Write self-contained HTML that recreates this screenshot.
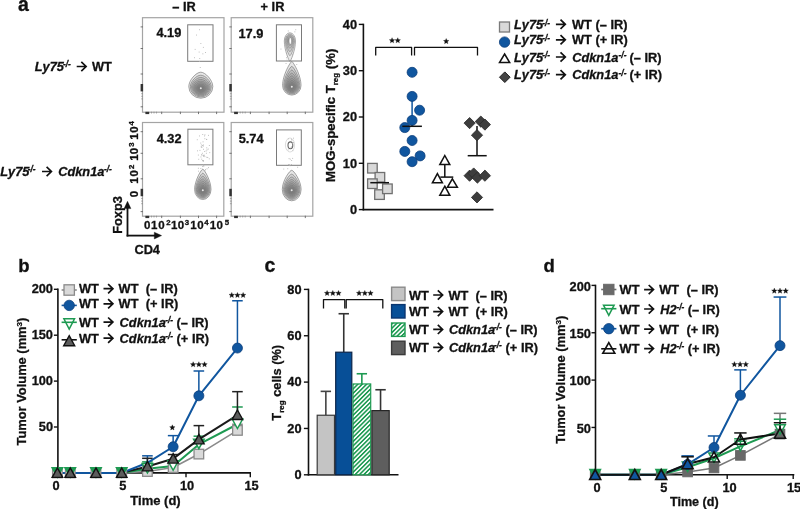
<!DOCTYPE html><html><head><meta charset="utf-8"><style>html,body{margin:0;padding:0;background:#fff;}svg{display:block;filter:blur(0.45px);}text{font-family:"Liberation Sans", sans-serif;font-weight:bold;stroke:#111;stroke-width:0.3px;}</style></head><body>
<svg width="800" height="509" viewBox="0 0 800 509">
<rect width="800" height="509" fill="#fff"/>
<text x="18.00" y="10.70" font-size="19.5" fill="#111" >a</text>
<text x="18.30" y="271.80" font-size="18.5" fill="#111" >b</text>
<text x="264.40" y="271.80" font-size="19.5" fill="#111" >c</text>
<text x="543.50" y="271.60" font-size="18.5" fill="#111" >d</text>
<text x="184.00" y="10.90" font-size="12.8" text-anchor="middle" fill="#111" >– IR</text>
<text x="272.50" y="10.90" font-size="12.8" text-anchor="middle" fill="#111" >+ IR</text>
<text x="34.80" y="71.20" font-size="12.8" font-style="italic" fill="#111" >Ly75</text>
<text x="63.00" y="66.50" font-size="8.3" font-style="italic" fill="#111" >-/-</text>
<path d="M76.70,66.50H85.90M81.30,61.90L86.10,66.50L81.30,71.10" fill="none" stroke="#111" stroke-width="1.7" stroke-linejoin="miter" stroke-miterlimit="10"/>
<text x="92.00" y="71.20" font-size="12.8" fill="#111" >WT</text>
<text x="0.30" y="176.30" font-size="12.8" font-style="italic" fill="#111" >Ly75</text>
<text x="27.80" y="171.60" font-size="8.3" font-style="italic" fill="#111" >-/-</text>
<path d="M42.00,171.50H51.20M46.60,166.90L51.40,171.50L46.60,176.10" fill="none" stroke="#111" stroke-width="1.7" stroke-linejoin="miter" stroke-miterlimit="10"/>
<text x="58.20" y="176.30" font-size="12.8" font-style="italic" fill="#111" >Cdkn1a</text>
<text x="104.00" y="171.60" font-size="8.3" font-style="italic" fill="#111" >-/-</text>
<rect x="142.5" y="17.7" width="81.5" height="94.5" fill="#fff" stroke="#a4a4a4" stroke-width="1.2"/>
<rect x="187.7" y="24.8" width="25.3" height="36.5" fill="none" stroke="#7a7a7a" stroke-width="1"/>
<text x="156.40" y="37.20" font-size="12.8" fill="#111" >4.19</text>
<line x1="140.60" y1="26.90" x2="143.00" y2="26.90" stroke="#666" stroke-width="0.9" />
<line x1="140.60" y1="48.50" x2="143.00" y2="48.50" stroke="#666" stroke-width="0.9" />
<line x1="140.60" y1="74.00" x2="143.00" y2="74.00" stroke="#666" stroke-width="0.9" />
<line x1="140.60" y1="106.80" x2="143.00" y2="106.80" stroke="#666" stroke-width="0.9" />
<line x1="141.20" y1="93.70" x2="143.00" y2="93.70" stroke="#888" stroke-width="0.7" />
<line x1="141.20" y1="96.30" x2="143.00" y2="96.30" stroke="#888" stroke-width="0.7" />
<line x1="141.20" y1="98.90" x2="143.00" y2="98.90" stroke="#888" stroke-width="0.7" />
<rect x="140.6" y="84.0" width="2.5" height="7.4" fill="#333"/>
<line x1="161.70" y1="111.70" x2="161.70" y2="114.10" stroke="#666" stroke-width="0.9" />
<line x1="180.40" y1="111.70" x2="180.40" y2="114.10" stroke="#666" stroke-width="0.9" />
<line x1="198.50" y1="111.70" x2="198.50" y2="114.10" stroke="#666" stroke-width="0.9" />
<line x1="216.60" y1="111.70" x2="216.60" y2="114.10" stroke="#666" stroke-width="0.9" />
<line x1="151.50" y1="111.70" x2="151.50" y2="113.50" stroke="#888" stroke-width="0.7" />
<line x1="154.00" y1="111.70" x2="154.00" y2="113.50" stroke="#888" stroke-width="0.7" />
<line x1="156.50" y1="111.70" x2="156.50" y2="113.50" stroke="#888" stroke-width="0.7" />
<rect x="145.4" y="111.8" width="3.8" height="2.3" fill="#333"/>
<rect x="231.2" y="17.7" width="81.6" height="94.5" fill="#fff" stroke="#a4a4a4" stroke-width="1.2"/>
<rect x="276.4" y="24.8" width="25.1" height="36.2" fill="none" stroke="#7a7a7a" stroke-width="1"/>
<text x="238.50" y="37.60" font-size="12.8" fill="#111" >17.9</text>
<line x1="229.30" y1="26.90" x2="231.70" y2="26.90" stroke="#666" stroke-width="0.9" />
<line x1="229.30" y1="48.50" x2="231.70" y2="48.50" stroke="#666" stroke-width="0.9" />
<line x1="229.30" y1="74.00" x2="231.70" y2="74.00" stroke="#666" stroke-width="0.9" />
<line x1="229.30" y1="106.80" x2="231.70" y2="106.80" stroke="#666" stroke-width="0.9" />
<line x1="229.90" y1="93.70" x2="231.70" y2="93.70" stroke="#888" stroke-width="0.7" />
<line x1="229.90" y1="96.30" x2="231.70" y2="96.30" stroke="#888" stroke-width="0.7" />
<line x1="229.90" y1="98.90" x2="231.70" y2="98.90" stroke="#888" stroke-width="0.7" />
<rect x="229.29999999999998" y="84.0" width="2.5" height="7.4" fill="#333"/>
<line x1="250.40" y1="111.70" x2="250.40" y2="114.10" stroke="#666" stroke-width="0.9" />
<line x1="269.10" y1="111.70" x2="269.10" y2="114.10" stroke="#666" stroke-width="0.9" />
<line x1="287.20" y1="111.70" x2="287.20" y2="114.10" stroke="#666" stroke-width="0.9" />
<line x1="305.30" y1="111.70" x2="305.30" y2="114.10" stroke="#666" stroke-width="0.9" />
<line x1="240.20" y1="111.70" x2="240.20" y2="113.50" stroke="#888" stroke-width="0.7" />
<line x1="242.70" y1="111.70" x2="242.70" y2="113.50" stroke="#888" stroke-width="0.7" />
<line x1="245.20" y1="111.70" x2="245.20" y2="113.50" stroke="#888" stroke-width="0.7" />
<rect x="234.1" y="111.8" width="3.8" height="2.3" fill="#333"/>
<rect x="142.5" y="122.5" width="81.3" height="93.7" fill="#fff" stroke="#a4a4a4" stroke-width="1.2"/>
<rect x="187.9" y="129.2" width="25.0" height="35.6" fill="none" stroke="#7a7a7a" stroke-width="1"/>
<text x="156.70" y="143.10" font-size="12.8" fill="#111" >4.32</text>
<line x1="140.60" y1="131.70" x2="143.00" y2="131.70" stroke="#666" stroke-width="0.9" />
<line x1="140.60" y1="153.30" x2="143.00" y2="153.30" stroke="#666" stroke-width="0.9" />
<line x1="140.60" y1="178.80" x2="143.00" y2="178.80" stroke="#666" stroke-width="0.9" />
<line x1="140.60" y1="211.60" x2="143.00" y2="211.60" stroke="#666" stroke-width="0.9" />
<line x1="141.20" y1="198.50" x2="143.00" y2="198.50" stroke="#888" stroke-width="0.7" />
<line x1="141.20" y1="201.10" x2="143.00" y2="201.10" stroke="#888" stroke-width="0.7" />
<line x1="141.20" y1="203.70" x2="143.00" y2="203.70" stroke="#888" stroke-width="0.7" />
<rect x="140.6" y="188.8" width="2.5" height="7.4" fill="#333"/>
<line x1="161.70" y1="215.70" x2="161.70" y2="218.10" stroke="#666" stroke-width="0.9" />
<line x1="180.40" y1="215.70" x2="180.40" y2="218.10" stroke="#666" stroke-width="0.9" />
<line x1="198.50" y1="215.70" x2="198.50" y2="218.10" stroke="#666" stroke-width="0.9" />
<line x1="216.60" y1="215.70" x2="216.60" y2="218.10" stroke="#666" stroke-width="0.9" />
<line x1="151.50" y1="215.70" x2="151.50" y2="217.50" stroke="#888" stroke-width="0.7" />
<line x1="154.00" y1="215.70" x2="154.00" y2="217.50" stroke="#888" stroke-width="0.7" />
<line x1="156.50" y1="215.70" x2="156.50" y2="217.50" stroke="#888" stroke-width="0.7" />
<rect x="145.4" y="215.79999999999998" width="3.8" height="2.3" fill="#333"/>
<rect x="231.2" y="122.5" width="81.6" height="93.7" fill="#fff" stroke="#a4a4a4" stroke-width="1.2"/>
<rect x="276.5" y="129.9" width="24.8" height="35.4" fill="none" stroke="#7a7a7a" stroke-width="1"/>
<text x="238.70" y="142.80" font-size="12.8" fill="#111" >5.74</text>
<line x1="229.30" y1="131.70" x2="231.70" y2="131.70" stroke="#666" stroke-width="0.9" />
<line x1="229.30" y1="153.30" x2="231.70" y2="153.30" stroke="#666" stroke-width="0.9" />
<line x1="229.30" y1="178.80" x2="231.70" y2="178.80" stroke="#666" stroke-width="0.9" />
<line x1="229.30" y1="211.60" x2="231.70" y2="211.60" stroke="#666" stroke-width="0.9" />
<line x1="229.90" y1="198.50" x2="231.70" y2="198.50" stroke="#888" stroke-width="0.7" />
<line x1="229.90" y1="201.10" x2="231.70" y2="201.10" stroke="#888" stroke-width="0.7" />
<line x1="229.90" y1="203.70" x2="231.70" y2="203.70" stroke="#888" stroke-width="0.7" />
<rect x="229.29999999999998" y="188.8" width="2.5" height="7.4" fill="#333"/>
<line x1="250.40" y1="215.70" x2="250.40" y2="218.10" stroke="#666" stroke-width="0.9" />
<line x1="269.10" y1="215.70" x2="269.10" y2="218.10" stroke="#666" stroke-width="0.9" />
<line x1="287.20" y1="215.70" x2="287.20" y2="218.10" stroke="#666" stroke-width="0.9" />
<line x1="305.30" y1="215.70" x2="305.30" y2="218.10" stroke="#666" stroke-width="0.9" />
<line x1="240.20" y1="215.70" x2="240.20" y2="217.50" stroke="#888" stroke-width="0.7" />
<line x1="242.70" y1="215.70" x2="242.70" y2="217.50" stroke="#888" stroke-width="0.7" />
<line x1="245.20" y1="215.70" x2="245.20" y2="217.50" stroke="#888" stroke-width="0.7" />
<rect x="234.1" y="215.79999999999998" width="3.8" height="2.3" fill="#333"/>
<g>
<path d="M200.80,72.20C205.36,72.20 212.80,80.12 212.80,86.60A12.00,11.60 0 0 1 188.80,86.60C188.80,80.12 196.24,72.20 200.80,72.20Z" fill="#5a5a5a" fill-opacity="0.15" stroke="#7d7d7d" stroke-width="0.7"/>
<path d="M200.80,75.23C205.45,75.23 211.28,81.61 211.28,86.83A10.48,10.13 0 0 1 190.32,86.83C190.32,81.61 196.15,75.23 200.80,75.23Z" fill="#5a5a5a" fill-opacity="0.15" stroke="#7d7d7d" stroke-width="0.7"/>
<path d="M200.80,77.50C205.38,77.50 210.06,82.73 210.06,87.01A9.26,8.95 0 0 1 191.54,87.01C191.54,82.73 196.22,77.50 200.80,77.50Z" fill="#5a5a5a" fill-opacity="0.15" stroke="#7d7d7d" stroke-width="0.7"/>
<path d="M200.80,79.45C205.20,79.45 208.93,83.70 208.93,87.18A8.13,7.86 0 0 1 192.67,87.18C192.67,83.70 196.40,79.45 200.80,79.45Z" fill="#5a5a5a" fill-opacity="0.15" stroke="#7d7d7d" stroke-width="0.7"/>
<path d="M200.80,81.18C204.94,81.18 207.86,84.57 207.86,87.34A7.06,6.83 0 0 1 193.74,87.34C193.74,84.57 196.66,81.18 200.80,81.18Z" fill="#5a5a5a" fill-opacity="0.15" stroke="#7d7d7d" stroke-width="0.7"/>
<path d="M200.80,82.71C204.59,82.71 206.83,85.34 206.83,87.50A6.03,5.83 0 0 1 194.77,87.50C194.77,85.34 197.01,82.71 200.80,82.71Z" fill="#5a5a5a" fill-opacity="0.15" stroke="#7d7d7d" stroke-width="0.7"/>
<path d="M200.80,84.06C204.17,84.06 205.83,86.03 205.83,87.65A5.03,4.86 0 0 1 195.77,87.65C195.77,86.03 197.43,84.06 200.80,84.06Z" fill="#5a5a5a" fill-opacity="0.15" stroke="#7d7d7d" stroke-width="0.7"/>
<path d="M200.80,85.26C203.68,85.26 204.85,86.65 204.85,87.79A4.05,3.92 0 0 1 196.75,87.79C196.75,86.65 197.92,85.26 200.80,85.26Z" fill="#5a5a5a" fill-opacity="0.15" stroke="#7d7d7d" stroke-width="0.7"/>
<path d="M200.80,86.29C203.13,86.29 203.90,87.19 203.90,87.94A3.10,2.99 0 0 1 197.70,87.94C197.70,87.19 198.47,86.29 200.80,86.29Z" fill="#5a5a5a" fill-opacity="0.15" stroke="#7d7d7d" stroke-width="0.7"/>
<path d="M200.80,87.15C202.51,87.15 202.96,87.66 202.96,88.08A2.16,2.09 0 0 1 198.64,88.08C198.64,87.66 199.09,87.15 200.80,87.15Z" fill="#5a5a5a" fill-opacity="0.15" stroke="#7d7d7d" stroke-width="0.7"/>
<circle cx="200.80" cy="88.13" r="1.0" fill="#e8e8e8"/>
</g>
<g>
<path d="M291.80,61.50C292.90,61.50 301.00,74.70 301.00,85.50A9.20,9.60 0 0 1 282.60,85.50C282.60,74.70 290.70,61.50 291.80,61.50Z" fill="#5a5a5a" fill-opacity="0.15" stroke="#7d7d7d" stroke-width="0.7"/>
<path d="M291.80,66.37C293.27,66.37 299.83,76.99 299.83,85.69A8.03,8.38 0 0 1 283.77,85.69C283.77,76.99 290.33,66.37 291.80,66.37Z" fill="#5a5a5a" fill-opacity="0.15" stroke="#7d7d7d" stroke-width="0.7"/>
<path d="M291.80,69.99C293.46,69.99 298.90,78.71 298.90,85.84A7.10,7.41 0 0 1 284.70,85.84C284.70,78.71 290.14,69.99 291.80,69.99Z" fill="#5a5a5a" fill-opacity="0.15" stroke="#7d7d7d" stroke-width="0.7"/>
<path d="M291.80,73.10C293.55,73.10 298.03,80.19 298.03,85.98A6.23,6.51 0 0 1 285.57,85.98C285.57,80.19 290.05,73.10 291.80,73.10Z" fill="#5a5a5a" fill-opacity="0.15" stroke="#7d7d7d" stroke-width="0.7"/>
<path d="M291.80,75.84C293.56,75.84 297.21,81.49 297.21,86.12A5.41,5.65 0 0 1 286.39,86.12C286.39,81.49 290.04,75.84 291.80,75.84Z" fill="#5a5a5a" fill-opacity="0.15" stroke="#7d7d7d" stroke-width="0.7"/>
<path d="M291.80,78.27C293.50,78.27 296.42,82.66 296.42,86.25A4.62,4.82 0 0 1 287.18,86.25C287.18,82.66 290.10,78.27 291.80,78.27Z" fill="#5a5a5a" fill-opacity="0.15" stroke="#7d7d7d" stroke-width="0.7"/>
<path d="M291.80,80.40C293.38,80.40 295.66,83.69 295.66,86.37A3.86,4.02 0 0 1 287.94,86.37C287.94,83.69 290.22,80.40 291.80,80.40Z" fill="#5a5a5a" fill-opacity="0.15" stroke="#7d7d7d" stroke-width="0.7"/>
<path d="M291.80,82.27C293.20,82.27 294.91,84.59 294.91,86.49A3.11,3.24 0 0 1 288.69,86.49C288.69,84.59 290.40,82.27 291.80,82.27Z" fill="#5a5a5a" fill-opacity="0.15" stroke="#7d7d7d" stroke-width="0.7"/>
<path d="M291.80,83.86C292.97,83.86 294.17,85.38 294.17,86.61A2.37,2.48 0 0 1 289.43,86.61C289.43,85.38 290.63,83.86 291.80,83.86Z" fill="#5a5a5a" fill-opacity="0.15" stroke="#7d7d7d" stroke-width="0.7"/>
<path d="M291.80,85.19C292.68,85.19 293.46,86.04 293.46,86.73A1.66,1.73 0 0 1 290.14,86.73C290.14,86.04 290.92,85.19 291.80,85.19Z" fill="#5a5a5a" fill-opacity="0.15" stroke="#7d7d7d" stroke-width="0.7"/>
<circle cx="291.80" cy="86.78" r="1.0" fill="#e8e8e8"/>
</g>
<g>
<path d="M289.90,61.50C290.57,61.50 295.50,50.23 295.50,41.00A5.60,8.20 0 0 0 284.30,41.00C284.30,50.23 289.23,61.50 289.90,61.50Z" fill="#5a5a5a" fill-opacity="0.12" stroke="#8a8a8a" stroke-width="0.7"/>
<path d="M289.90,55.78C290.86,55.78 294.50,47.55 294.50,40.82A4.60,6.73 0 0 0 285.30,40.82C285.30,47.55 288.94,55.78 289.90,55.78Z" fill="#5a5a5a" fill-opacity="0.12" stroke="#8a8a8a" stroke-width="0.7"/>
<path d="M289.90,51.68C290.97,51.68 293.70,45.63 293.70,40.68A3.80,5.56 0 0 0 286.10,40.68C286.10,45.63 288.83,51.68 289.90,51.68Z" fill="#5a5a5a" fill-opacity="0.12" stroke="#8a8a8a" stroke-width="0.7"/>
<path d="M289.90,48.31C290.96,48.31 292.95,44.04 292.95,40.55A3.05,4.47 0 0 0 286.85,40.55C286.85,44.04 288.84,48.31 289.90,48.31Z" fill="#5a5a5a" fill-opacity="0.12" stroke="#8a8a8a" stroke-width="0.7"/>
<path d="M289.90,45.52C290.86,45.52 292.25,42.71 292.25,40.42A2.35,3.44 0 0 0 287.55,40.42C287.55,42.71 288.94,45.52 289.90,45.52Z" fill="#5a5a5a" fill-opacity="0.12" stroke="#8a8a8a" stroke-width="0.7"/>
<path d="M289.90,43.25C290.69,43.25 291.57,41.63 291.57,40.30A1.67,2.44 0 0 0 288.23,40.30C288.23,41.63 289.11,43.25 289.90,43.25Z" fill="#5a5a5a" fill-opacity="0.12" stroke="#8a8a8a" stroke-width="0.7"/>
<path d="M289.90,41.50C290.43,41.50 290.91,40.77 290.91,40.18A1.01,1.48 0 0 0 288.89,40.18C288.89,40.77 289.37,41.50 289.90,41.50Z" fill="#5a5a5a" fill-opacity="0.12" stroke="#8a8a8a" stroke-width="0.7"/>
</g>
<ellipse cx="290.3" cy="41.0" rx="1.3" ry="3.2" fill="#fff" stroke="#888" stroke-width="0.6"/>
<g>
<path d="M202.80,169.10C204.03,169.10 211.00,180.32 211.00,189.50A8.20,10.00 0 0 1 194.60,189.50C194.60,180.32 201.57,169.10 202.80,169.10Z" fill="#5a5a5a" fill-opacity="0.15" stroke="#7d7d7d" stroke-width="0.7"/>
<path d="M202.80,173.20C204.33,173.20 209.96,182.24 209.96,189.63A7.16,8.73 0 0 1 195.64,189.63C195.64,182.24 201.27,173.20 202.80,173.20Z" fill="#5a5a5a" fill-opacity="0.15" stroke="#7d7d7d" stroke-width="0.7"/>
<path d="M202.80,176.25C204.47,176.25 209.13,183.66 209.13,189.73A6.33,7.72 0 0 1 196.47,189.73C196.47,183.66 201.13,176.25 202.80,176.25Z" fill="#5a5a5a" fill-opacity="0.15" stroke="#7d7d7d" stroke-width="0.7"/>
<path d="M202.80,178.88C204.53,178.88 208.36,184.90 208.36,189.82A5.56,6.78 0 0 1 197.24,189.82C197.24,184.90 201.07,178.88 202.80,178.88Z" fill="#5a5a5a" fill-opacity="0.15" stroke="#7d7d7d" stroke-width="0.7"/>
<path d="M202.80,181.18C204.52,181.18 207.63,185.98 207.63,189.91A4.83,5.88 0 0 1 197.97,189.91C197.97,185.98 201.08,181.18 202.80,181.18Z" fill="#5a5a5a" fill-opacity="0.15" stroke="#7d7d7d" stroke-width="0.7"/>
<path d="M202.80,183.22C204.44,183.22 206.92,186.95 206.92,190.00A4.12,5.02 0 0 1 198.68,190.00C198.68,186.95 201.16,183.22 202.80,183.22Z" fill="#5a5a5a" fill-opacity="0.15" stroke="#7d7d7d" stroke-width="0.7"/>
<path d="M202.80,185.01C204.31,185.01 206.24,187.80 206.24,190.08A3.44,4.19 0 0 1 199.36,190.08C199.36,187.80 201.29,185.01 202.80,185.01Z" fill="#5a5a5a" fill-opacity="0.15" stroke="#7d7d7d" stroke-width="0.7"/>
<path d="M202.80,186.57C204.13,186.57 205.57,188.55 205.57,190.16A2.77,3.38 0 0 1 200.03,190.16C200.03,188.55 201.47,186.57 202.80,186.57Z" fill="#5a5a5a" fill-opacity="0.15" stroke="#7d7d7d" stroke-width="0.7"/>
<path d="M202.80,187.91C203.90,187.91 204.92,189.19 204.92,190.24A2.12,2.58 0 0 1 200.68,190.24C200.68,189.19 201.70,187.91 202.80,187.91Z" fill="#5a5a5a" fill-opacity="0.15" stroke="#7d7d7d" stroke-width="0.7"/>
<path d="M202.80,189.01C203.63,189.01 204.28,189.73 204.28,190.32A1.48,1.80 0 0 1 201.32,190.32C201.32,189.73 201.97,189.01 202.80,189.01Z" fill="#5a5a5a" fill-opacity="0.15" stroke="#7d7d7d" stroke-width="0.7"/>
<circle cx="202.80" cy="190.35" r="1.0" fill="#e8e8e8"/>
</g>
<g>
<path d="M291.70,170.30C293.77,170.30 301.10,180.86 301.10,189.50A9.40,11.30 0 0 1 282.30,189.50C282.30,180.86 289.63,170.30 291.70,170.30Z" fill="#5a5a5a" fill-opacity="0.15" stroke="#7d7d7d" stroke-width="0.7"/>
<path d="M291.70,174.17C294.03,174.17 299.91,182.67 299.91,189.63A8.21,9.87 0 0 1 283.49,189.63C283.49,182.67 289.37,174.17 291.70,174.17Z" fill="#5a5a5a" fill-opacity="0.15" stroke="#7d7d7d" stroke-width="0.7"/>
<path d="M291.70,177.05C294.12,177.05 298.95,184.02 298.95,189.73A7.25,8.72 0 0 1 284.45,189.73C284.45,184.02 289.28,177.05 291.70,177.05Z" fill="#5a5a5a" fill-opacity="0.15" stroke="#7d7d7d" stroke-width="0.7"/>
<path d="M291.70,179.52C294.13,179.52 298.07,185.19 298.07,189.82A6.37,7.66 0 0 1 285.33,189.82C285.33,185.19 289.27,179.52 291.70,179.52Z" fill="#5a5a5a" fill-opacity="0.15" stroke="#7d7d7d" stroke-width="0.7"/>
<path d="M291.70,181.69C294.06,181.69 297.23,186.21 297.23,189.91A5.53,6.65 0 0 1 286.17,189.91C286.17,186.21 289.34,181.69 291.70,181.69Z" fill="#5a5a5a" fill-opacity="0.15" stroke="#7d7d7d" stroke-width="0.7"/>
<path d="M291.70,183.61C293.91,183.61 296.42,187.12 296.42,190.00A4.72,5.68 0 0 1 286.98,190.00C286.98,187.12 289.49,183.61 291.70,183.61Z" fill="#5a5a5a" fill-opacity="0.15" stroke="#7d7d7d" stroke-width="0.7"/>
<path d="M291.70,185.31C293.71,185.31 295.64,187.93 295.64,190.08A3.94,4.74 0 0 1 287.76,190.08C287.76,187.93 289.69,185.31 291.70,185.31Z" fill="#5a5a5a" fill-opacity="0.15" stroke="#7d7d7d" stroke-width="0.7"/>
<path d="M291.70,186.78C293.45,186.78 294.87,188.64 294.87,190.16A3.17,3.82 0 0 1 288.53,190.16C288.53,188.64 289.95,186.78 291.70,186.78Z" fill="#5a5a5a" fill-opacity="0.15" stroke="#7d7d7d" stroke-width="0.7"/>
<path d="M291.70,188.04C293.13,188.04 294.13,189.25 294.13,190.24A2.43,2.92 0 0 1 289.27,190.24C289.27,189.25 290.27,188.04 291.70,188.04Z" fill="#5a5a5a" fill-opacity="0.15" stroke="#7d7d7d" stroke-width="0.7"/>
<path d="M291.70,189.08C292.77,189.08 293.39,189.76 293.39,190.32A1.69,2.03 0 0 1 290.01,190.32C290.01,189.76 290.63,189.08 291.70,189.08Z" fill="#5a5a5a" fill-opacity="0.15" stroke="#7d7d7d" stroke-width="0.7"/>
<circle cx="291.70" cy="190.35" r="1.0" fill="#e8e8e8"/>
</g>
<ellipse cx="290.4" cy="145.3" rx="2.4" ry="3.4" fill="none" stroke="#666" stroke-width="1.1"/>
<ellipse cx="290.0" cy="145.0" rx="4.6" ry="7.0" fill="none" stroke="#c4c4c4" stroke-width="0.6"/>
<rect x="200.4" y="43.0" width="0.9" height="0.9" fill="#b4b4b4"/>
<rect x="205.0" y="52.1" width="0.9" height="0.9" fill="#b4b4b4"/>
<rect x="199.0" y="29.3" width="0.9" height="0.9" fill="#b4b4b4"/>
<rect x="199.0" y="61.0" width="0.9" height="0.9" fill="#b4b4b4"/>
<rect x="199.8" y="67.1" width="0.9" height="0.9" fill="#b4b4b4"/>
<rect x="202.9" y="46.9" width="0.9" height="0.9" fill="#b4b4b4"/>
<rect x="202.4" y="53.4" width="0.9" height="0.9" fill="#b4b4b4"/>
<rect x="196.1" y="34.6" width="0.9" height="0.9" fill="#b4b4b4"/>
<rect x="194.7" y="48.9" width="0.9" height="0.9" fill="#b4b4b4"/>
<rect x="194.0" y="57.3" width="0.9" height="0.9" fill="#b4b4b4"/>
<rect x="199.3" y="58.0" width="0.9" height="0.9" fill="#b4b4b4"/>
<rect x="198.7" y="51.6" width="0.9" height="0.9" fill="#b4b4b4"/>
<rect x="203.3" y="165.7" width="0.9" height="0.9" fill="#b4b4b4"/>
<rect x="204.2" y="151.0" width="0.9" height="0.9" fill="#b4b4b4"/>
<rect x="202.4" y="160.1" width="0.9" height="0.9" fill="#b4b4b4"/>
<rect x="197.9" y="167.8" width="0.9" height="0.9" fill="#b4b4b4"/>
<rect x="199.5" y="149.9" width="0.9" height="0.9" fill="#b4b4b4"/>
<rect x="206.6" y="168.4" width="0.9" height="0.9" fill="#b4b4b4"/>
<rect x="204.4" y="138.3" width="0.9" height="0.9" fill="#b4b4b4"/>
<rect x="202.6" y="141.4" width="0.9" height="0.9" fill="#b4b4b4"/>
<rect x="206.4" y="156.8" width="0.9" height="0.9" fill="#b4b4b4"/>
<rect x="202.9" y="144.5" width="0.9" height="0.9" fill="#b4b4b4"/>
<rect x="200.7" y="146.4" width="0.9" height="0.9" fill="#b4b4b4"/>
<rect x="203.4" y="155.2" width="0.9" height="0.9" fill="#b4b4b4"/>
<rect x="198.3" y="158.8" width="0.9" height="0.9" fill="#b4b4b4"/>
<rect x="200.4" y="168.1" width="0.9" height="0.9" fill="#b4b4b4"/>
<rect x="208.8" y="158.4" width="0.9" height="0.9" fill="#b4b4b4"/>
<rect x="196.8" y="139.3" width="0.9" height="0.9" fill="#b4b4b4"/>
<rect x="208.1" y="167.2" width="0.9" height="0.9" fill="#b4b4b4"/>
<rect x="197.9" y="154.6" width="0.9" height="0.9" fill="#b4b4b4"/>
<rect x="203.1" y="164.5" width="0.9" height="0.9" fill="#b4b4b4"/>
<rect x="201.6" y="154.8" width="0.9" height="0.9" fill="#b4b4b4"/>
<rect x="203.3" y="165.3" width="0.9" height="0.9" fill="#b4b4b4"/>
<rect x="204.5" y="170.4" width="0.9" height="0.9" fill="#b4b4b4"/>
<rect x="207.8" y="148.6" width="0.9" height="0.9" fill="#b4b4b4"/>
<rect x="206.2" y="138.9" width="0.9" height="0.9" fill="#b4b4b4"/>
<rect x="202.2" y="166.0" width="0.9" height="0.9" fill="#b4b4b4"/>
<rect x="208.1" y="134.9" width="0.9" height="0.9" fill="#b4b4b4"/>
<rect x="202.9" y="160.2" width="0.9" height="0.9" fill="#b4b4b4"/>
<rect x="202.9" y="145.6" width="0.9" height="0.9" fill="#b4b4b4"/>
<rect x="209.3" y="152.2" width="0.9" height="0.9" fill="#b4b4b4"/>
<rect x="198.1" y="170.7" width="0.9" height="0.9" fill="#b4b4b4"/>
<rect x="203.1" y="155.8" width="0.9" height="0.9" fill="#b4b4b4"/>
<rect x="204.5" y="134.4" width="0.9" height="0.9" fill="#b4b4b4"/>
<rect x="204.4" y="156.2" width="0.9" height="0.9" fill="#b4b4b4"/>
<rect x="206.2" y="139.1" width="0.9" height="0.9" fill="#b4b4b4"/>
<rect x="208.9" y="145.0" width="0.9" height="0.9" fill="#b4b4b4"/>
<rect x="205.0" y="169.2" width="0.9" height="0.9" fill="#b4b4b4"/>
<rect x="205.7" y="150.5" width="0.9" height="0.9" fill="#b4b4b4"/>
<rect x="201.9" y="152.8" width="0.9" height="0.9" fill="#b4b4b4"/>
<rect x="201.2" y="154.2" width="0.9" height="0.9" fill="#b4b4b4"/>
<rect x="200.5" y="156.5" width="0.9" height="0.9" fill="#b4b4b4"/>
<rect x="206.6" y="149.4" width="0.9" height="0.9" fill="#b4b4b4"/>
<rect x="202.3" y="160.3" width="0.9" height="0.9" fill="#b4b4b4"/>
<rect x="203.7" y="170.0" width="0.9" height="0.9" fill="#b4b4b4"/>
<rect x="205.9" y="152.8" width="0.9" height="0.9" fill="#b4b4b4"/>
<rect x="203.1" y="148.8" width="0.9" height="0.9" fill="#b4b4b4"/>
<rect x="203.4" y="155.0" width="0.9" height="0.9" fill="#b4b4b4"/>
<rect x="207.3" y="157.0" width="0.9" height="0.9" fill="#b4b4b4"/>
<rect x="204.0" y="135.5" width="0.9" height="0.9" fill="#b4b4b4"/>
<rect x="201.3" y="158.7" width="0.9" height="0.9" fill="#b4b4b4"/>
<rect x="201.2" y="146.5" width="0.9" height="0.9" fill="#b4b4b4"/>
<rect x="202.3" y="134.0" width="0.9" height="0.9" fill="#b4b4b4"/>
<rect x="199.1" y="135.5" width="0.9" height="0.9" fill="#b4b4b4"/>
<rect x="200.3" y="142.6" width="0.9" height="0.9" fill="#b4b4b4"/>
<rect x="197.1" y="150.4" width="0.9" height="0.9" fill="#b4b4b4"/>
<rect x="201.4" y="146.9" width="0.9" height="0.9" fill="#b4b4b4"/>
<rect x="202.1" y="145.0" width="0.9" height="0.9" fill="#b4b4b4"/>
<rect x="200.9" y="144.5" width="0.9" height="0.9" fill="#b4b4b4"/>
<rect x="206.3" y="147.4" width="0.9" height="0.9" fill="#b4b4b4"/>
<rect x="203.6" y="154.6" width="0.9" height="0.9" fill="#b4b4b4"/>
<rect x="202.9" y="160.8" width="0.9" height="0.9" fill="#b4b4b4"/>
<rect x="289.2" y="164.0" width="0.9" height="0.9" fill="#b4b4b4"/>
<rect x="292.0" y="142.8" width="0.9" height="0.9" fill="#b4b4b4"/>
<rect x="291.2" y="160.0" width="0.9" height="0.9" fill="#b4b4b4"/>
<rect x="293.0" y="137.7" width="0.9" height="0.9" fill="#b4b4b4"/>
<rect x="288.8" y="165.1" width="0.9" height="0.9" fill="#b4b4b4"/>
<rect x="292.4" y="150.3" width="0.9" height="0.9" fill="#b4b4b4"/>
<rect x="291.1" y="146.5" width="0.9" height="0.9" fill="#b4b4b4"/>
<rect x="288.6" y="158.2" width="0.9" height="0.9" fill="#b4b4b4"/>
<rect x="292.5" y="142.3" width="0.9" height="0.9" fill="#b4b4b4"/>
<rect x="287.8" y="138.4" width="0.9" height="0.9" fill="#b4b4b4"/>
<rect x="288.1" y="164.1" width="0.9" height="0.9" fill="#b4b4b4"/>
<rect x="289.6" y="165.3" width="0.9" height="0.9" fill="#b4b4b4"/>
<rect x="291.0" y="164.1" width="0.9" height="0.9" fill="#b4b4b4"/>
<rect x="292.2" y="157.9" width="0.9" height="0.9" fill="#b4b4b4"/>
<rect x="291.0" y="138.8" width="0.9" height="0.9" fill="#b4b4b4"/>
<rect x="287.4" y="144.8" width="0.9" height="0.9" fill="#b4b4b4"/>
<rect x="290.6" y="146.9" width="0.9" height="0.9" fill="#b4b4b4"/>
<rect x="287.7" y="149.5" width="0.9" height="0.9" fill="#b4b4b4"/>
<rect x="287.3" y="168.3" width="0.9" height="0.9" fill="#b4b4b4"/>
<rect x="291.5" y="139.7" width="0.9" height="0.9" fill="#b4b4b4"/>
<rect x="297.2" y="166.8" width="0.9" height="0.9" fill="#b4b4b4"/>
<rect x="290.2" y="170.8" width="0.9" height="0.9" fill="#b4b4b4"/>
<rect x="283.3" y="168.6" width="0.9" height="0.9" fill="#b4b4b4"/>
<rect x="292.9" y="142.2" width="0.9" height="0.9" fill="#b4b4b4"/>
<rect x="289.8" y="158.7" width="0.9" height="0.9" fill="#b4b4b4"/>
<rect x="280.5" y="48.6" width="0.9" height="0.9" fill="#b4b4b4"/>
<rect x="288.9" y="37.5" width="0.9" height="0.9" fill="#b4b4b4"/>
<rect x="294.4" y="31.4" width="0.9" height="0.9" fill="#b4b4b4"/>
<rect x="286.5" y="59.7" width="0.9" height="0.9" fill="#b4b4b4"/>
<rect x="287.8" y="30.5" width="0.9" height="0.9" fill="#b4b4b4"/>
<rect x="296.3" y="64.1" width="0.9" height="0.9" fill="#b4b4b4"/>
<rect x="285.6" y="63.0" width="0.9" height="0.9" fill="#b4b4b4"/>
<rect x="295.3" y="29.3" width="0.9" height="0.9" fill="#b4b4b4"/>
<rect x="286.1" y="57.3" width="0.9" height="0.9" fill="#b4b4b4"/>
<rect x="292.0" y="54.1" width="0.9" height="0.9" fill="#b4b4b4"/>
<text transform="translate(138.20,194.10) rotate(-90)" font-size="11.5" text-anchor="middle" fill="#111">0</text>
<text transform="translate(138.20,180.55) rotate(-90)" font-size="11.5" text-anchor="middle" fill="#111">1</text>
<text transform="translate(138.20,173.25) rotate(-90)" font-size="11.5" text-anchor="middle" fill="#111">0</text>
<text transform="translate(134.40,166.85) rotate(-90)" font-size="7.8" text-anchor="middle" fill="#111">2</text>
<text transform="translate(138.20,157.60) rotate(-90)" font-size="11.5" text-anchor="middle" fill="#111">1</text>
<text transform="translate(138.20,150.95) rotate(-90)" font-size="11.5" text-anchor="middle" fill="#111">0</text>
<text transform="translate(134.40,144.55) rotate(-90)" font-size="7.8" text-anchor="middle" fill="#111">3</text>
<text transform="translate(138.20,136.45) rotate(-90)" font-size="11.5" text-anchor="middle" fill="#111">1</text>
<text transform="translate(138.20,129.60) rotate(-90)" font-size="11.5" text-anchor="middle" fill="#111">0</text>
<text transform="translate(134.40,123.45) rotate(-90)" font-size="7.8" text-anchor="middle" fill="#111">4</text>
<text x="147.30" y="229.40" font-size="11.5" text-anchor="middle" fill="#111">0</text>
<text x="154.15" y="229.40" font-size="11.5" text-anchor="middle" fill="#111">1</text>
<text x="161.55" y="229.40" font-size="11.5" text-anchor="middle" fill="#111">0</text>
<text x="168.40" y="225.30" font-size="7.8" text-anchor="middle" fill="#111">2</text>
<text x="174.10" y="229.40" font-size="11.5" text-anchor="middle" fill="#111">1</text>
<text x="180.90" y="229.40" font-size="11.5" text-anchor="middle" fill="#111">0</text>
<text x="187.00" y="225.30" font-size="7.8" text-anchor="middle" fill="#111">3</text>
<text x="193.50" y="229.40" font-size="11.5" text-anchor="middle" fill="#111">1</text>
<text x="200.40" y="229.40" font-size="11.5" text-anchor="middle" fill="#111">0</text>
<text x="206.40" y="225.30" font-size="7.8" text-anchor="middle" fill="#111">4</text>
<text x="212.90" y="229.40" font-size="11.5" text-anchor="middle" fill="#111">1</text>
<text x="219.80" y="229.40" font-size="11.5" text-anchor="middle" fill="#111">0</text>
<text x="226.85" y="225.30" font-size="7.8" text-anchor="middle" fill="#111">5</text>
<text transform="translate(122.30,215.00) rotate(-90)" font-size="12.8" text-anchor="middle" fill="#111">Foxp3</text>
<text x="147.20" y="253.80" font-size="12.8" text-anchor="middle" fill="#111" >CD4</text>
<line x1="127.50" y1="236.50" x2="127.50" y2="206.00" stroke="#111" stroke-width="1.8" />
<polygon points="127.50,201.30 130.90,208.60 124.10,208.60" fill="#111" stroke="#111" stroke-width="0.4" />
<line x1="126.60" y1="235.60" x2="156.00" y2="235.60" stroke="#111" stroke-width="1.8" />
<polygon points="161.60,235.60 154.30,232.20 154.30,239.00" fill="#111" stroke="#111" stroke-width="0.4" />
<line x1="363.40" y1="23.70" x2="363.40" y2="210.35" stroke="#111" stroke-width="1.6" />
<line x1="362.60" y1="209.60" x2="493.50" y2="209.60" stroke="#111" stroke-width="1.6" />
<line x1="358.80" y1="209.60" x2="363.40" y2="209.60" stroke="#111" stroke-width="1.4" />
<text x="357.00" y="214.00" font-size="12.8" text-anchor="end" fill="#111" >0</text>
<line x1="358.80" y1="163.30" x2="363.40" y2="163.30" stroke="#111" stroke-width="1.4" />
<text x="357.00" y="167.70" font-size="12.8" text-anchor="end" fill="#111" >10</text>
<line x1="358.80" y1="117.00" x2="363.40" y2="117.00" stroke="#111" stroke-width="1.4" />
<text x="357.00" y="121.40" font-size="12.8" text-anchor="end" fill="#111" >20</text>
<line x1="358.80" y1="70.70" x2="363.40" y2="70.70" stroke="#111" stroke-width="1.4" />
<text x="357.00" y="75.10" font-size="12.8" text-anchor="end" fill="#111" >30</text>
<line x1="358.80" y1="24.40" x2="363.40" y2="24.40" stroke="#111" stroke-width="1.4" />
<text x="357.00" y="28.80" font-size="12.8" text-anchor="end" fill="#111" >40</text>
<text transform="translate(335.4,115.3) rotate(-90)" font-size="13.2" text-anchor="middle" fill="#111">MOG-specific T<tspan font-size="8" dy="3">reg</tspan><tspan dy="-3"> (%)</tspan></text>
<polyline points="375.70,55.60 375.70,47.40 411.60,47.40 411.60,55.60" fill="none" stroke="#111" stroke-width="1.3" stroke-linejoin="round" />
<polyline points="414.50,55.60 414.50,47.40 477.50,47.40 477.50,55.60" fill="none" stroke="#111" stroke-width="1.3" stroke-linejoin="round" />
<polygon points="392.05,37.70 392.80,39.51 394.76,39.67 393.27,40.95 393.73,42.86 392.05,41.83 390.37,42.86 390.83,40.95 389.34,39.67 391.30,39.51" fill="#111" stroke="#111" stroke-width="0.3" />
<polygon points="397.75,37.70 398.50,39.51 400.46,39.67 398.97,40.95 399.43,42.86 397.75,41.83 396.07,42.86 396.53,40.95 395.04,39.67 397.00,39.51" fill="#111" stroke="#111" stroke-width="0.3" />
<polygon points="446.20,38.50 446.95,40.31 448.91,40.47 447.42,41.75 447.88,43.66 446.20,42.63 444.52,43.66 444.98,41.75 443.49,40.47 445.45,40.31" fill="#111" stroke="#111" stroke-width="0.3" />
<rect x="367.60" y="163.40" width="9.60" height="9.60" fill="#d9d9d9" stroke="#707070" stroke-width="1.3"/>
<rect x="375.10" y="172.50" width="9.60" height="9.60" fill="#d9d9d9" stroke="#707070" stroke-width="1.3"/>
<rect x="367.60" y="178.90" width="9.60" height="9.60" fill="#d9d9d9" stroke="#707070" stroke-width="1.3"/>
<rect x="374.70" y="189.80" width="9.60" height="9.60" fill="#d9d9d9" stroke="#707070" stroke-width="1.3"/>
<rect x="382.60" y="184.00" width="9.60" height="9.60" fill="#d9d9d9" stroke="#707070" stroke-width="1.3"/>
<line x1="370.30" y1="182.70" x2="389.00" y2="182.70" stroke="#111" stroke-width="1.5" />
<line x1="412.10" y1="96.40" x2="412.10" y2="126.30" stroke="#10569f" stroke-width="1.5" />
<circle cx="412.10" cy="72.30" r="5.00" fill="#10569f" stroke="#0c3f7c" stroke-width="0.8"/>
<circle cx="412.10" cy="96.40" r="5.00" fill="#10569f" stroke="#0c3f7c" stroke-width="0.8"/>
<circle cx="419.60" cy="110.20" r="5.00" fill="#10569f" stroke="#0c3f7c" stroke-width="0.8"/>
<circle cx="412.10" cy="120.40" r="5.00" fill="#10569f" stroke="#0c3f7c" stroke-width="0.8"/>
<circle cx="404.80" cy="127.60" r="5.00" fill="#10569f" stroke="#0c3f7c" stroke-width="0.8"/>
<circle cx="412.10" cy="140.50" r="5.00" fill="#10569f" stroke="#0c3f7c" stroke-width="0.8"/>
<circle cx="404.80" cy="151.40" r="5.00" fill="#10569f" stroke="#0c3f7c" stroke-width="0.8"/>
<circle cx="420.10" cy="155.90" r="5.00" fill="#10569f" stroke="#0c3f7c" stroke-width="0.8"/>
<circle cx="412.10" cy="161.70" r="5.00" fill="#10569f" stroke="#0c3f7c" stroke-width="0.8"/>
<line x1="402.30" y1="126.30" x2="421.90" y2="126.30" stroke="#111" stroke-width="1.5" />
<line x1="444.80" y1="164.80" x2="444.80" y2="177.10" stroke="#111" stroke-width="1.5" />
<line x1="440.30" y1="177.10" x2="453.30" y2="177.10" stroke="#111" stroke-width="1.5" />
<polygon points="444.80,155.50 449.80,164.60 439.80,164.60" fill="#fff" stroke="#111" stroke-width="1.5" />
<polygon points="437.40,173.60 442.40,182.80 432.40,182.80" fill="#fff" stroke="#111" stroke-width="1.5" />
<polygon points="452.40,178.80 457.40,187.30 447.40,187.30" fill="#fff" stroke="#111" stroke-width="1.5" />
<polygon points="444.80,186.20 449.80,195.30 439.80,195.30" fill="#fff" stroke="#111" stroke-width="1.5" />
<line x1="477.00" y1="125.90" x2="477.00" y2="155.70" stroke="#111" stroke-width="1.5" />
<line x1="467.70" y1="155.70" x2="486.70" y2="155.70" stroke="#111" stroke-width="1.5" />
<polygon points="469.60,117.50 475.20,123.10 469.60,128.70 464.00,123.10" fill="#3d3d3d" stroke="#2a2a2a" stroke-width="0.8" />
<polygon points="480.80,116.00 486.40,121.60 480.80,127.20 475.20,121.60" fill="#3d3d3d" stroke="#2a2a2a" stroke-width="0.8" />
<polygon points="484.90,119.00 490.50,124.60 484.90,130.20 479.30,124.60" fill="#3d3d3d" stroke="#2a2a2a" stroke-width="0.8" />
<polygon points="477.00,129.60 482.60,135.20 477.00,140.80 471.40,135.20" fill="#3d3d3d" stroke="#2a2a2a" stroke-width="0.8" />
<polygon points="469.60,170.10 475.20,175.70 469.60,181.30 464.00,175.70" fill="#3d3d3d" stroke="#2a2a2a" stroke-width="0.8" />
<polygon points="473.70,167.90 479.30,173.50 473.70,179.10 468.10,173.50" fill="#3d3d3d" stroke="#2a2a2a" stroke-width="0.8" />
<polygon points="477.40,172.00 483.00,177.60 477.40,183.20 471.80,177.60" fill="#3d3d3d" stroke="#2a2a2a" stroke-width="0.8" />
<polygon points="484.90,170.10 490.50,175.70 484.90,181.30 479.30,175.70" fill="#3d3d3d" stroke="#2a2a2a" stroke-width="0.8" />
<polygon points="477.00,191.80 482.60,197.40 477.00,203.00 471.40,197.40" fill="#3d3d3d" stroke="#2a2a2a" stroke-width="0.8" />
<rect x="499.50" y="22.00" width="10.00" height="10.00" fill="#d9d9d9" stroke="#7a7a7a" stroke-width="1.3"/>
<circle cx="504.60" cy="42.10" r="5.20" fill="#10569f" stroke="#0c3f7c" stroke-width="0.8"/>
<polygon points="504.60,54.00 509.70,62.60 499.50,62.60" fill="#fff" stroke="#111" stroke-width="1.5" />
<polygon points="504.80,71.90 510.10,77.20 504.80,82.50 499.50,77.20" fill="#444" stroke="#1e1e1e" stroke-width="1.0" />
<text x="514.00" y="28.90" font-size="12.8" font-style="italic" fill="#111" >Ly75</text>
<text x="542.20" y="25.70" font-size="8.3" font-style="italic" fill="#111" >-/-</text>
<path d="M555.90,24.30H565.10M560.50,19.70L565.30,24.30L560.50,28.90" fill="none" stroke="#111" stroke-width="1.7" stroke-linejoin="miter" stroke-miterlimit="10"/>
<text x="572.00" y="28.90" font-size="12.8" fill="#111" >WT (– IR)</text>
<text x="514.00" y="44.40" font-size="12.8" font-style="italic" fill="#111" >Ly75</text>
<text x="542.20" y="41.20" font-size="8.3" font-style="italic" fill="#111" >-/-</text>
<path d="M555.90,39.80H565.10M560.50,35.20L565.30,39.80L560.50,44.40" fill="none" stroke="#111" stroke-width="1.7" stroke-linejoin="miter" stroke-miterlimit="10"/>
<text x="572.00" y="44.40" font-size="12.8" fill="#111" >WT (+ IR)</text>
<text x="514.00" y="61.60" font-size="12.8" font-style="italic" fill="#111" >Ly75</text>
<text x="542.20" y="58.40" font-size="8.3" font-style="italic" fill="#111" >-/-</text>
<path d="M555.90,57.00H565.10M560.50,52.40L565.30,57.00L560.50,61.60" fill="none" stroke="#111" stroke-width="1.7" stroke-linejoin="miter" stroke-miterlimit="10"/>
<text x="572.20" y="61.60" font-size="12.8" font-style="italic" fill="#111" >Cdkn1a</text>
<text x="618.60" y="58.40" font-size="8.3" font-style="italic" fill="#111" >-/-</text>
<text x="629.60" y="61.60" font-size="12.8" fill="#111" >(– IR)</text>
<text x="514.00" y="79.30" font-size="12.8" font-style="italic" fill="#111" >Ly75</text>
<text x="542.20" y="76.10" font-size="8.3" font-style="italic" fill="#111" >-/-</text>
<path d="M555.90,74.70H565.10M560.50,70.10L565.30,74.70L560.50,79.30" fill="none" stroke="#111" stroke-width="1.7" stroke-linejoin="miter" stroke-miterlimit="10"/>
<text x="572.20" y="79.30" font-size="12.8" font-style="italic" fill="#111" >Cdkn1a</text>
<text x="618.60" y="76.10" font-size="8.3" font-style="italic" fill="#111" >-/-</text>
<text x="629.60" y="79.30" font-size="12.8" fill="#111" >(+ IR)</text>
<line x1="57.90" y1="288.60" x2="57.90" y2="473.65" stroke="#111" stroke-width="1.6" />
<line x1="57.10" y1="472.90" x2="251.00" y2="472.90" stroke="#111" stroke-width="1.6" />
<line x1="53.90" y1="427.00" x2="57.90" y2="427.00" stroke="#111" stroke-width="1.4" />
<text x="53.00" y="430.60" font-size="12.8" text-anchor="end" fill="#111" >50</text>
<line x1="53.90" y1="381.10" x2="57.90" y2="381.10" stroke="#111" stroke-width="1.4" />
<text x="53.00" y="384.70" font-size="12.8" text-anchor="end" fill="#111" >100</text>
<line x1="53.90" y1="335.20" x2="57.90" y2="335.20" stroke="#111" stroke-width="1.4" />
<text x="53.00" y="338.80" font-size="12.8" text-anchor="end" fill="#111" >150</text>
<line x1="53.90" y1="289.30" x2="57.90" y2="289.30" stroke="#111" stroke-width="1.4" />
<text x="53.00" y="292.90" font-size="12.8" text-anchor="end" fill="#111" >200</text>
<text x="56.10" y="489.60" font-size="12.8" text-anchor="middle" fill="#111" >0</text>
<line x1="121.70" y1="472.90" x2="121.70" y2="477.20" stroke="#111" stroke-width="1.4" />
<text x="122.70" y="489.60" font-size="12.8" text-anchor="middle" fill="#111" >5</text>
<line x1="186.00" y1="472.90" x2="186.00" y2="477.20" stroke="#111" stroke-width="1.4" />
<text x="187.00" y="489.60" font-size="12.8" text-anchor="middle" fill="#111" >10</text>
<line x1="250.30" y1="472.90" x2="250.30" y2="477.20" stroke="#111" stroke-width="1.4" />
<text x="251.50" y="489.60" font-size="12.8" text-anchor="middle" fill="#111" >15</text>
<text x="155.50" y="504.60" font-size="13" text-anchor="middle" fill="#111" >Time (d)</text>
<text transform="translate(26.3,381.6) rotate(-90)" font-size="12.9" text-anchor="middle" fill="#111">Tumor Volume (mm<tspan font-size="8" dy="-4.5">3</tspan><tspan dy="4.5">)</tspan></text>
<line x1="237.44" y1="430.40" x2="237.44" y2="424.25" stroke="#888" stroke-width="1.5" />
<line x1="232.14" y1="424.25" x2="242.74" y2="424.25" stroke="#888" stroke-width="1.5" />
<line x1="237.44" y1="424.25" x2="237.44" y2="406.99" stroke="#1e9a52" stroke-width="1.5" />
<line x1="232.14" y1="406.99" x2="242.74" y2="406.99" stroke="#1e9a52" stroke-width="1.5" />
<line x1="237.44" y1="415.07" x2="237.44" y2="391.66" stroke="#222" stroke-width="1.5" />
<line x1="232.14" y1="391.66" x2="242.74" y2="391.66" stroke="#222" stroke-width="1.5" />
<line x1="198.86" y1="439.39" x2="198.86" y2="425.62" stroke="#222" stroke-width="1.5" />
<line x1="193.56" y1="425.62" x2="204.16" y2="425.62" stroke="#222" stroke-width="1.5" />
<line x1="198.86" y1="444.44" x2="198.86" y2="436.18" stroke="#1e9a52" stroke-width="1.5" />
<line x1="193.56" y1="436.18" x2="204.16" y2="436.18" stroke="#1e9a52" stroke-width="1.5" />
<line x1="198.86" y1="395.79" x2="198.86" y2="371.00" stroke="#10569f" stroke-width="1.5" />
<line x1="193.56" y1="371.00" x2="204.16" y2="371.00" stroke="#10569f" stroke-width="1.5" />
<line x1="237.44" y1="348.05" x2="237.44" y2="300.77" stroke="#10569f" stroke-width="1.5" />
<line x1="232.14" y1="300.77" x2="242.74" y2="300.77" stroke="#10569f" stroke-width="1.5" />
<line x1="173.14" y1="446.74" x2="173.14" y2="435.63" stroke="#10569f" stroke-width="1.5" />
<line x1="167.84" y1="435.63" x2="178.44" y2="435.63" stroke="#10569f" stroke-width="1.5" />
<line x1="147.42" y1="462.80" x2="147.42" y2="455.83" stroke="#10569f" stroke-width="1.5" />
<line x1="142.12" y1="455.83" x2="152.72" y2="455.83" stroke="#10569f" stroke-width="1.5" />
<line x1="147.42" y1="466.47" x2="147.42" y2="458.30" stroke="#222" stroke-width="1.5" />
<line x1="142.12" y1="458.30" x2="152.72" y2="458.30" stroke="#222" stroke-width="1.5" />
<line x1="147.42" y1="468.77" x2="147.42" y2="461.88" stroke="#1e9a52" stroke-width="1.5" />
<line x1="142.12" y1="461.88" x2="152.72" y2="461.88" stroke="#1e9a52" stroke-width="1.5" />
<line x1="173.14" y1="458.67" x2="173.14" y2="454.54" stroke="#222" stroke-width="1.5" />
<line x1="167.84" y1="454.54" x2="178.44" y2="454.54" stroke="#222" stroke-width="1.5" />
<polyline points="57.40,472.90 70.26,472.90 95.98,472.90 121.70,472.90 147.42,471.52 173.14,467.58 198.86,454.08 237.44,430.40" fill="none" stroke="#8a8a8a" stroke-width="1.6" stroke-linejoin="round" />
<polyline points="57.40,472.90 70.26,472.90 95.98,472.90 121.70,472.90 147.42,468.77 173.14,466.01 198.86,444.44 237.44,424.25" fill="none" stroke="#1e9a52" stroke-width="2.0" stroke-linejoin="round" />
<polyline points="57.40,472.90 70.26,472.90 95.98,472.90 121.70,472.90 147.42,466.47 173.14,458.67 198.86,439.39 237.44,415.07" fill="none" stroke="#1a1a1a" stroke-width="2.0" stroke-linejoin="round" />
<polyline points="57.40,472.90 70.26,472.90 95.98,472.90 121.70,472.90 147.42,462.80 173.14,446.74 198.86,395.79 237.44,348.05" fill="none" stroke="#10569f" stroke-width="2.0" stroke-linejoin="round" />
<rect x="52.60" y="468.10" width="9.60" height="9.60" fill="#d9d9d9" stroke="#8a8a8a" stroke-width="1.3"/>
<rect x="65.46" y="468.10" width="9.60" height="9.60" fill="#d9d9d9" stroke="#8a8a8a" stroke-width="1.3"/>
<rect x="91.18" y="468.10" width="9.60" height="9.60" fill="#d9d9d9" stroke="#8a8a8a" stroke-width="1.3"/>
<rect x="116.90" y="468.10" width="9.60" height="9.60" fill="#d9d9d9" stroke="#8a8a8a" stroke-width="1.3"/>
<rect x="142.62" y="466.72" width="9.60" height="9.60" fill="#d9d9d9" stroke="#8a8a8a" stroke-width="1.3"/>
<rect x="168.34" y="462.78" width="9.60" height="9.60" fill="#d9d9d9" stroke="#8a8a8a" stroke-width="1.3"/>
<rect x="194.06" y="449.28" width="9.60" height="9.60" fill="#d9d9d9" stroke="#8a8a8a" stroke-width="1.3"/>
<rect x="232.64" y="425.60" width="9.60" height="9.60" fill="#d9d9d9" stroke="#8a8a8a" stroke-width="1.3"/>
<polygon points="52.15,467.65 62.65,467.65 57.40,477.15" fill="#1e9a52" stroke="#1e9a52" stroke-width="1.5" />
<polygon points="65.01,467.65 75.51,467.65 70.26,477.15" fill="#1e9a52" stroke="#1e9a52" stroke-width="1.5" />
<polygon points="90.73,467.65 101.23,467.65 95.98,477.15" fill="#1e9a52" stroke="#1e9a52" stroke-width="1.5" />
<polygon points="116.45,467.65 126.95,467.65 121.70,477.15" fill="#1e9a52" stroke="#1e9a52" stroke-width="1.5" />
<polygon points="142.17,463.52 152.67,463.52 147.42,473.02" fill="#fff" stroke="#1e9a52" stroke-width="1.5" />
<polygon points="167.89,460.76 178.39,460.76 173.14,470.26" fill="#fff" stroke="#1e9a52" stroke-width="1.5" />
<polygon points="193.61,439.19 204.11,439.19 198.86,448.69" fill="#fff" stroke="#1e9a52" stroke-width="1.5" />
<polygon points="232.19,419.00 242.69,419.00 237.44,428.50" fill="#fff" stroke="#1e9a52" stroke-width="1.5" />
<circle cx="173.14" cy="446.74" r="5.00" fill="#10569f" stroke="#0c3f7c" stroke-width="0.8"/>
<circle cx="198.86" cy="395.79" r="5.00" fill="#10569f" stroke="#0c3f7c" stroke-width="0.8"/>
<circle cx="237.44" cy="348.05" r="5.00" fill="#10569f" stroke="#0c3f7c" stroke-width="0.8"/>
<polygon points="57.40,467.85 62.65,477.35 52.15,477.35" fill="#5c5c5c" stroke="#111" stroke-width="1.4" />
<polygon points="70.26,467.85 75.51,477.35 65.01,477.35" fill="#5c5c5c" stroke="#111" stroke-width="1.4" />
<polygon points="95.98,467.85 101.23,477.35 90.73,477.35" fill="#5c5c5c" stroke="#111" stroke-width="1.4" />
<polygon points="121.70,467.85 126.95,477.35 116.45,477.35" fill="#5c5c5c" stroke="#111" stroke-width="1.4" />
<polygon points="147.42,461.42 152.67,470.92 142.17,470.92" fill="#5c5c5c" stroke="#111" stroke-width="1.4" />
<polygon points="173.14,453.62 178.39,463.12 167.89,463.12" fill="#5c5c5c" stroke="#111" stroke-width="1.4" />
<polygon points="198.86,434.34 204.11,443.84 193.61,443.84" fill="#5c5c5c" stroke="#111" stroke-width="1.4" />
<polygon points="237.44,410.02 242.69,419.52 232.19,419.52" fill="#5c5c5c" stroke="#111" stroke-width="1.4" />
<polygon points="172.34,424.80 173.09,426.61 175.05,426.77 173.56,428.05 174.02,429.96 172.34,428.93 170.66,429.96 171.12,428.05 169.63,426.77 171.59,426.61" fill="#111" stroke="#111" stroke-width="0.3" />
<polygon points="193.16,361.70 193.91,363.51 195.87,363.67 194.38,364.95 194.84,366.86 193.16,365.83 191.48,366.86 191.94,364.95 190.45,363.67 192.41,363.51" fill="#111" stroke="#111" stroke-width="0.3" />
<polygon points="198.86,361.70 199.61,363.51 201.57,363.67 200.08,364.95 200.54,366.86 198.86,365.83 197.18,366.86 197.64,364.95 196.15,363.67 198.11,363.51" fill="#111" stroke="#111" stroke-width="0.3" />
<polygon points="204.56,361.70 205.31,363.51 207.27,363.67 205.78,364.95 206.24,366.86 204.56,365.83 202.88,366.86 203.34,364.95 201.85,363.67 203.81,363.51" fill="#111" stroke="#111" stroke-width="0.3" />
<polygon points="231.74,292.40 232.49,294.21 234.45,294.37 232.96,295.65 233.42,297.56 231.74,296.53 230.06,297.56 230.52,295.65 229.03,294.37 230.99,294.21" fill="#111" stroke="#111" stroke-width="0.3" />
<polygon points="237.44,292.40 238.19,294.21 240.15,294.37 238.66,295.65 239.12,297.56 237.44,296.53 235.76,297.56 236.22,295.65 234.73,294.37 236.69,294.21" fill="#111" stroke="#111" stroke-width="0.3" />
<polygon points="243.14,292.40 243.89,294.21 245.85,294.37 244.36,295.65 244.82,297.56 243.14,296.53 241.46,297.56 241.92,295.65 240.43,294.37 242.39,294.21" fill="#111" stroke="#111" stroke-width="0.3" />
<line x1="61.60" y1="290.00" x2="76.80" y2="290.00" stroke="#8a8a8a" stroke-width="1.6" />
<rect x="64.00" y="284.80" width="10.40" height="10.40" fill="#d9d9d9" stroke="#8a8a8a" stroke-width="1.3"/>
<text x="79.00" y="293.30" font-size="12.8" fill="#111" >WT</text>
<path d="M103.50,288.70H112.70M108.10,284.10L112.90,288.70L108.10,293.30" fill="none" stroke="#111" stroke-width="1.7" stroke-linejoin="miter" stroke-miterlimit="10"/>
<text x="118.60" y="293.30" font-size="12.8" fill="#111" >WT</text>
<text x="145.80" y="293.30" font-size="12.8" fill="#111" >(– IR)</text>
<line x1="61.60" y1="305.40" x2="76.80" y2="305.40" stroke="#10569f" stroke-width="1.6" />
<circle cx="69.20" cy="305.40" r="5.20" fill="#10569f" stroke="#0c3f7c" stroke-width="0.8"/>
<text x="79.00" y="308.40" font-size="12.8" fill="#111" >WT</text>
<path d="M103.50,303.80H112.70M108.10,299.20L112.90,303.80L108.10,308.40" fill="none" stroke="#111" stroke-width="1.7" stroke-linejoin="miter" stroke-miterlimit="10"/>
<text x="118.60" y="308.40" font-size="12.8" fill="#111" >WT</text>
<text x="145.80" y="308.40" font-size="12.8" fill="#111" >(+ IR)</text>
<line x1="61.60" y1="322.30" x2="76.80" y2="322.30" stroke="#1e9a52" stroke-width="1.6" />
<polygon points="63.90,318.80 74.50,318.80 69.20,329.00" fill="none" stroke="#1e9a52" stroke-width="1.5" />
<text x="79.00" y="326.70" font-size="12.8" fill="#111" >WT</text>
<path d="M103.50,322.10H112.70M108.10,317.50L112.90,322.10L108.10,326.70" fill="none" stroke="#111" stroke-width="1.7" stroke-linejoin="miter" stroke-miterlimit="10"/>
<text x="119.60" y="326.70" font-size="12.8" font-style="italic" fill="#111" >Cdkn1a</text>
<text x="165.20" y="322.80" font-size="8.3" font-style="italic" fill="#111" >-/-</text>
<text x="176.60" y="326.70" font-size="12.8" fill="#111" >(– IR)</text>
<line x1="61.60" y1="339.80" x2="76.80" y2="339.80" stroke="#111" stroke-width="1.6" />
<polygon points="69.20,335.70 74.70,345.70 63.70,345.70" fill="#5c5c5c" stroke="#111" stroke-width="1.4" />
<text x="79.00" y="342.80" font-size="12.8" fill="#111" >WT</text>
<path d="M103.50,338.20H112.70M108.10,333.60L112.90,338.20L108.10,342.80" fill="none" stroke="#111" stroke-width="1.7" stroke-linejoin="miter" stroke-miterlimit="10"/>
<text x="119.60" y="342.80" font-size="12.8" font-style="italic" fill="#111" >Cdkn1a</text>
<text x="165.20" y="338.90" font-size="8.3" font-style="italic" fill="#111" >-/-</text>
<text x="176.60" y="342.80" font-size="12.8" fill="#111" >(+ IR)</text>
<line x1="308.50" y1="288.70" x2="308.50" y2="475.55" stroke="#111" stroke-width="1.6" />
<line x1="307.70" y1="474.80" x2="398.50" y2="474.80" stroke="#111" stroke-width="1.6" />
<line x1="303.90" y1="474.80" x2="308.50" y2="474.80" stroke="#111" stroke-width="1.4" />
<text x="301.50" y="479.00" font-size="12.8" text-anchor="end" fill="#111" >0</text>
<line x1="303.90" y1="428.45" x2="308.50" y2="428.45" stroke="#111" stroke-width="1.4" />
<text x="301.50" y="432.65" font-size="12.8" text-anchor="end" fill="#111" >20</text>
<line x1="303.90" y1="382.10" x2="308.50" y2="382.10" stroke="#111" stroke-width="1.4" />
<text x="301.50" y="386.30" font-size="12.8" text-anchor="end" fill="#111" >40</text>
<line x1="303.90" y1="335.75" x2="308.50" y2="335.75" stroke="#111" stroke-width="1.4" />
<text x="301.50" y="339.95" font-size="12.8" text-anchor="end" fill="#111" >60</text>
<line x1="303.90" y1="289.40" x2="308.50" y2="289.40" stroke="#111" stroke-width="1.4" />
<text x="301.50" y="293.60" font-size="12.8" text-anchor="end" fill="#111" >80</text>
<text transform="translate(281.0,382.80) rotate(-90)" font-size="12.8" text-anchor="middle" fill="#111">T<tspan font-size="8" dy="3">reg</tspan><tspan dy="-3"> cells (%)</tspan></text>
<defs><pattern id="hatch" patternUnits="userSpaceOnUse" width="3.1" height="6" patternTransform="rotate(45)"><rect width="3.1" height="6" fill="#fff"/><rect x="0" y="0" width="1.6" height="6" fill="#1e9a52"/></pattern></defs>
<line x1="325.85" y1="415.24" x2="325.85" y2="391.37" stroke="#444" stroke-width="1.6" />
<line x1="320.65" y1="391.37" x2="331.05" y2="391.37" stroke="#444" stroke-width="1.6" />
<line x1="343.75" y1="352.20" x2="343.75" y2="313.73" stroke="#333" stroke-width="1.6" />
<line x1="338.55" y1="313.73" x2="348.95" y2="313.73" stroke="#333" stroke-width="1.6" />
<line x1="361.85" y1="383.95" x2="361.85" y2="373.76" stroke="#1e9a52" stroke-width="1.6" />
<line x1="356.65" y1="373.76" x2="367.05" y2="373.76" stroke="#1e9a52" stroke-width="1.6" />
<line x1="380.55" y1="410.61" x2="380.55" y2="389.75" stroke="#333" stroke-width="1.6" />
<line x1="375.35" y1="389.75" x2="385.75" y2="389.75" stroke="#333" stroke-width="1.6" />
<rect x="317.20" y="415.24" width="17.30" height="59.56" fill="#c4c4c4" stroke="#3a3a3a" stroke-width="1.2"/>
<rect x="335.70" y="352.20" width="16.10" height="122.60" fill="#074f97" stroke="#0a2448" stroke-width="1.2"/>
<rect x="353.00" y="383.95" width="17.70" height="90.85" fill="url(#hatch)" stroke="#1e9a52" stroke-width="1.2"/>
<rect x="371.90" y="410.61" width="17.30" height="64.19" fill="#5e5e5e" stroke="#262626" stroke-width="1.2"/>
<polyline points="323.50,308.60 323.50,299.60 344.80,299.60 344.80,308.60" fill="none" stroke="#111" stroke-width="1.3" stroke-linejoin="round" />
<polyline points="346.20,308.60 346.20,299.60 382.80,299.60 382.80,308.60" fill="none" stroke="#111" stroke-width="1.3" stroke-linejoin="round" />
<polygon points="327.10,290.40 327.85,292.21 329.81,292.37 328.32,293.65 328.78,295.56 327.10,294.53 325.42,295.56 325.88,293.65 324.39,292.37 326.35,292.21" fill="#111" stroke="#111" stroke-width="0.3" />
<polygon points="332.80,290.40 333.55,292.21 335.51,292.37 334.02,293.65 334.48,295.56 332.80,294.53 331.12,295.56 331.58,293.65 330.09,292.37 332.05,292.21" fill="#111" stroke="#111" stroke-width="0.3" />
<polygon points="338.50,290.40 339.25,292.21 341.21,292.37 339.72,293.65 340.18,295.56 338.50,294.53 336.82,295.56 337.28,293.65 335.79,292.37 337.75,292.21" fill="#111" stroke="#111" stroke-width="0.3" />
<polygon points="359.10,290.40 359.85,292.21 361.81,292.37 360.32,293.65 360.78,295.56 359.10,294.53 357.42,295.56 357.88,293.65 356.39,292.37 358.35,292.21" fill="#111" stroke="#111" stroke-width="0.3" />
<polygon points="364.80,290.40 365.55,292.21 367.51,292.37 366.02,293.65 366.48,295.56 364.80,294.53 363.12,295.56 363.58,293.65 362.09,292.37 364.05,292.21" fill="#111" stroke="#111" stroke-width="0.3" />
<polygon points="370.50,290.40 371.25,292.21 373.21,292.37 371.72,293.65 372.18,295.56 370.50,294.53 368.82,295.56 369.28,293.65 367.79,292.37 369.75,292.21" fill="#111" stroke="#111" stroke-width="0.3" />
<rect x="391.6" y="287.2" width="13.4" height="13.4" fill="#c4c4c4" stroke="#8a8a8a" stroke-width="1.4"/>
<text x="409.00" y="299.60" font-size="12.8" fill="#111" >WT</text>
<path d="M433.20,295.00H442.40M437.80,290.40L442.60,295.00L437.80,299.60" fill="none" stroke="#111" stroke-width="1.7" stroke-linejoin="miter" stroke-miterlimit="10"/>
<text x="448.40" y="299.60" font-size="12.8" fill="#111" >WT</text>
<text x="475.50" y="299.60" font-size="12.8" fill="#111" >(– IR)</text>
<rect x="391.6" y="304.6" width="13.4" height="13.4" fill="#074f97" stroke="#0a3670" stroke-width="1.4"/>
<text x="409.00" y="316.20" font-size="12.8" fill="#111" >WT</text>
<path d="M433.20,311.60H442.40M437.80,307.00L442.60,311.60L437.80,316.20" fill="none" stroke="#111" stroke-width="1.7" stroke-linejoin="miter" stroke-miterlimit="10"/>
<text x="448.40" y="316.20" font-size="12.8" fill="#111" >WT</text>
<text x="475.50" y="316.20" font-size="12.8" fill="#111" >(+ IR)</text>
<rect x="391.6" y="323.0" width="13.4" height="13.4" fill="url(#hatch)" stroke="#1e9a52" stroke-width="1.4"/>
<text x="409.00" y="334.00" font-size="12.8" fill="#111" >WT</text>
<path d="M433.20,329.40H442.40M437.80,324.80L442.60,329.40L437.80,334.00" fill="none" stroke="#111" stroke-width="1.7" stroke-linejoin="miter" stroke-miterlimit="10"/>
<text x="448.90" y="334.00" font-size="12.8" font-style="italic" fill="#111" >Cdkn1a</text>
<text x="494.00" y="330.10" font-size="8.3" font-style="italic" fill="#111" >-/-</text>
<text x="505.60" y="334.00" font-size="12.8" fill="#111" >(– IR)</text>
<rect x="391.6" y="341.2" width="13.4" height="13.4" fill="#5e5e5e" stroke="#3a3a3a" stroke-width="1.4"/>
<text x="409.00" y="352.00" font-size="12.8" fill="#111" >WT</text>
<path d="M433.20,347.40H442.40M437.80,342.80L442.60,347.40L437.80,352.00" fill="none" stroke="#111" stroke-width="1.7" stroke-linejoin="miter" stroke-miterlimit="10"/>
<text x="448.90" y="352.00" font-size="12.8" font-style="italic" fill="#111" >Cdkn1a</text>
<text x="494.00" y="348.10" font-size="8.3" font-style="italic" fill="#111" >-/-</text>
<text x="505.60" y="352.00" font-size="12.8" fill="#111" >(+ IR)</text>
<line x1="595.50" y1="284.70" x2="595.50" y2="475.55" stroke="#111" stroke-width="1.6" />
<line x1="594.70" y1="474.80" x2="794.30" y2="474.80" stroke="#111" stroke-width="1.6" />
<line x1="591.50" y1="427.45" x2="595.50" y2="427.45" stroke="#111" stroke-width="1.4" />
<text x="590.90" y="432.75" font-size="12.8" text-anchor="end" fill="#111" >50</text>
<line x1="591.50" y1="380.10" x2="595.50" y2="380.10" stroke="#111" stroke-width="1.4" />
<text x="590.90" y="385.40" font-size="12.8" text-anchor="end" fill="#111" >100</text>
<line x1="591.50" y1="332.75" x2="595.50" y2="332.75" stroke="#111" stroke-width="1.4" />
<text x="590.90" y="338.05" font-size="12.8" text-anchor="end" fill="#111" >150</text>
<line x1="591.50" y1="285.40" x2="595.50" y2="285.40" stroke="#111" stroke-width="1.4" />
<text x="590.90" y="290.70" font-size="12.8" text-anchor="end" fill="#111" >200</text>
<text x="597.00" y="491.60" font-size="12.8" text-anchor="middle" fill="#111" >0</text>
<line x1="661.20" y1="474.80" x2="661.20" y2="479.10" stroke="#111" stroke-width="1.4" />
<text x="663.90" y="491.60" font-size="12.8" text-anchor="middle" fill="#111" >5</text>
<line x1="727.20" y1="474.80" x2="727.20" y2="479.10" stroke="#111" stroke-width="1.4" />
<text x="729.60" y="491.60" font-size="12.8" text-anchor="middle" fill="#111" >10</text>
<line x1="793.20" y1="474.80" x2="793.20" y2="479.10" stroke="#111" stroke-width="1.4" />
<text x="794.10" y="491.60" font-size="12.8" text-anchor="middle" fill="#111" >15</text>
<text x="694.30" y="505.60" font-size="12.6" text-anchor="middle" fill="#111" >Time (d)</text>
<text transform="translate(565.2,379.7) rotate(-90)" font-size="12.9" text-anchor="middle" fill="#111">Tumor Volume (mm<tspan font-size="8" dy="-4.5">3</tspan><tspan dy="4.5">)</tspan></text>
<line x1="780.00" y1="434.08" x2="780.00" y2="413.34" stroke="#777" stroke-width="1.5" />
<line x1="773.80" y1="413.34" x2="786.20" y2="413.34" stroke="#777" stroke-width="1.5" />
<line x1="780.00" y1="430.01" x2="780.00" y2="419.21" stroke="#1e9a52" stroke-width="1.5" />
<line x1="773.80" y1="419.21" x2="786.20" y2="419.21" stroke="#1e9a52" stroke-width="1.5" />
<line x1="780.00" y1="433.51" x2="780.00" y2="422.72" stroke="#111" stroke-width="1.5" />
<line x1="773.80" y1="422.72" x2="786.20" y2="422.72" stroke="#111" stroke-width="1.5" />
<line x1="740.40" y1="439.48" x2="740.40" y2="432.94" stroke="#111" stroke-width="1.5" />
<line x1="734.20" y1="432.94" x2="746.60" y2="432.94" stroke="#111" stroke-width="1.5" />
<line x1="740.40" y1="446.39" x2="740.40" y2="438.81" stroke="#1e9a52" stroke-width="1.5" />
<line x1="734.20" y1="438.81" x2="746.60" y2="438.81" stroke="#1e9a52" stroke-width="1.5" />
<line x1="740.40" y1="395.25" x2="740.40" y2="369.87" stroke="#10569f" stroke-width="1.5" />
<line x1="734.20" y1="369.87" x2="746.60" y2="369.87" stroke="#10569f" stroke-width="1.5" />
<line x1="780.00" y1="345.63" x2="780.00" y2="297.05" stroke="#10569f" stroke-width="1.5" />
<line x1="773.60" y1="297.05" x2="786.40" y2="297.05" stroke="#10569f" stroke-width="1.5" />
<line x1="714.00" y1="447.53" x2="714.00" y2="435.97" stroke="#10569f" stroke-width="1.5" />
<line x1="707.80" y1="435.97" x2="720.20" y2="435.97" stroke="#10569f" stroke-width="1.5" />
<line x1="687.60" y1="464.38" x2="687.60" y2="455.86" stroke="#10569f" stroke-width="1.5" />
<line x1="681.40" y1="455.86" x2="693.80" y2="455.86" stroke="#10569f" stroke-width="1.5" />
<line x1="687.60" y1="464.00" x2="687.60" y2="456.81" stroke="#111" stroke-width="1.5" />
<line x1="681.40" y1="456.81" x2="693.80" y2="456.81" stroke="#111" stroke-width="1.5" />
<polyline points="595.20,474.80 634.80,474.80 661.20,474.80 687.60,471.96 714.00,467.98 740.40,455.39 780.00,434.08" fill="none" stroke="#777" stroke-width="1.6" stroke-linejoin="round" />
<polyline points="595.20,474.80 634.80,474.80 661.20,474.80 687.60,467.22 714.00,458.23 740.40,446.39 780.00,430.01" fill="none" stroke="#1e9a52" stroke-width="2.0" stroke-linejoin="round" />
<polyline points="595.20,474.80 634.80,474.80 661.20,474.80 687.60,464.38 714.00,447.53 740.40,395.25 780.00,345.63" fill="none" stroke="#10569f" stroke-width="2.0" stroke-linejoin="round" />
<polyline points="595.20,474.80 634.80,474.80 661.20,474.80 687.60,464.00 714.00,457.28 740.40,439.48 780.00,433.51" fill="none" stroke="#111" stroke-width="2.0" stroke-linejoin="round" />
<rect x="590.40" y="470.00" width="9.60" height="9.60" fill="#686868" stroke="#686868" stroke-width="1.0"/>
<rect x="630.00" y="470.00" width="9.60" height="9.60" fill="#686868" stroke="#686868" stroke-width="1.0"/>
<rect x="656.40" y="470.00" width="9.60" height="9.60" fill="#686868" stroke="#686868" stroke-width="1.0"/>
<rect x="682.80" y="467.16" width="9.60" height="9.60" fill="#686868" stroke="#686868" stroke-width="1.0"/>
<rect x="709.20" y="463.18" width="9.60" height="9.60" fill="#686868" stroke="#686868" stroke-width="1.0"/>
<rect x="735.60" y="450.59" width="9.60" height="9.60" fill="#686868" stroke="#686868" stroke-width="1.0"/>
<rect x="775.20" y="429.28" width="9.60" height="9.60" fill="#686868" stroke="#686868" stroke-width="1.0"/>
<polygon points="589.95,469.55 600.45,469.55 595.20,479.05" fill="#1e9a52" stroke="#1e9a52" stroke-width="1.5" />
<polygon points="629.55,469.55 640.05,469.55 634.80,479.05" fill="#1e9a52" stroke="#1e9a52" stroke-width="1.5" />
<polygon points="655.95,469.55 666.45,469.55 661.20,479.05" fill="#1e9a52" stroke="#1e9a52" stroke-width="1.5" />
<polygon points="682.35,461.97 692.85,461.97 687.60,471.47" fill="none" stroke="#1e9a52" stroke-width="1.5" />
<polygon points="708.75,452.98 719.25,452.98 714.00,462.48" fill="none" stroke="#1e9a52" stroke-width="1.5" />
<polygon points="735.15,441.14 745.65,441.14 740.40,450.64" fill="none" stroke="#1e9a52" stroke-width="1.5" />
<polygon points="774.75,424.76 785.25,424.76 780.00,434.26" fill="none" stroke="#1e9a52" stroke-width="1.5" />
<circle cx="687.60" cy="464.38" r="5.00" fill="#10569f" stroke="#0c3f7c" stroke-width="0.8"/>
<circle cx="714.00" cy="447.53" r="5.00" fill="#10569f" stroke="#0c3f7c" stroke-width="0.8"/>
<circle cx="740.40" cy="395.25" r="5.00" fill="#10569f" stroke="#0c3f7c" stroke-width="0.8"/>
<circle cx="780.00" cy="345.63" r="5.00" fill="#10569f" stroke="#0c3f7c" stroke-width="0.8"/>
<polygon points="595.20,469.50 600.70,479.50 589.70,479.50" fill="#10569f" stroke="#111" stroke-width="1.6" />
<polygon points="634.80,469.50 640.30,479.50 629.30,479.50" fill="#10569f" stroke="#111" stroke-width="1.6" />
<polygon points="661.20,469.50 666.70,479.50 655.70,479.50" fill="#10569f" stroke="#111" stroke-width="1.6" />
<polygon points="687.60,458.70 693.10,468.70 682.10,468.70" fill="none" stroke="#111" stroke-width="1.6" />
<polygon points="714.00,451.98 719.50,461.98 708.50,461.98" fill="none" stroke="#111" stroke-width="1.6" />
<polygon points="740.40,434.18 745.90,444.18 734.90,444.18" fill="none" stroke="#111" stroke-width="1.6" />
<polygon points="780.00,428.21 785.50,438.21 774.50,438.21" fill="none" stroke="#111" stroke-width="1.6" />
<polygon points="734.40,361.60 735.15,363.41 737.11,363.57 735.62,364.85 736.08,366.76 734.40,365.73 732.72,366.76 733.18,364.85 731.69,363.57 733.65,363.41" fill="#111" stroke="#111" stroke-width="0.3" />
<polygon points="740.10,361.60 740.85,363.41 742.81,363.57 741.32,364.85 741.78,366.76 740.10,365.73 738.42,366.76 738.88,364.85 737.39,363.57 739.35,363.41" fill="#111" stroke="#111" stroke-width="0.3" />
<polygon points="745.80,361.60 746.55,363.41 748.51,363.57 747.02,364.85 747.48,366.76 745.80,365.73 744.12,366.76 744.58,364.85 743.09,363.57 745.05,363.41" fill="#111" stroke="#111" stroke-width="0.3" />
<polygon points="774.30,288.10 775.05,289.91 777.01,290.07 775.52,291.35 775.98,293.26 774.30,292.23 772.62,293.26 773.08,291.35 771.59,290.07 773.55,289.91" fill="#111" stroke="#111" stroke-width="0.3" />
<polygon points="780.00,288.10 780.75,289.91 782.71,290.07 781.22,291.35 781.68,293.26 780.00,292.23 778.32,293.26 778.78,291.35 777.29,290.07 779.25,289.91" fill="#111" stroke="#111" stroke-width="0.3" />
<polygon points="785.70,288.10 786.45,289.91 788.41,290.07 786.92,291.35 787.38,293.26 785.70,292.23 784.02,293.26 784.48,291.35 782.99,290.07 784.95,289.91" fill="#111" stroke="#111" stroke-width="0.3" />
<line x1="601.20" y1="289.50" x2="616.40" y2="289.50" stroke="#6a6a6a" stroke-width="1.6" />
<rect x="603.60" y="284.30" width="10.40" height="10.40" fill="#6a6a6a" stroke="#6a6a6a" stroke-width="1.0"/>
<text x="619.60" y="294.20" font-size="12.8" fill="#111" >WT</text>
<path d="M644.10,289.60H653.30M648.70,285.00L653.50,289.60L648.70,294.20" fill="none" stroke="#111" stroke-width="1.7" stroke-linejoin="miter" stroke-miterlimit="10"/>
<text x="659.20" y="294.20" font-size="12.8" fill="#111" >WT</text>
<text x="686.60" y="294.20" font-size="12.8" fill="#111" >(– IR)</text>
<line x1="601.20" y1="308.70" x2="616.40" y2="308.70" stroke="#1e9a52" stroke-width="1.6" />
<polygon points="603.50,305.20 614.10,305.20 608.80,315.40" fill="none" stroke="#1e9a52" stroke-width="1.5" />
<text x="619.60" y="313.60" font-size="12.8" fill="#111" >WT</text>
<path d="M644.10,309.00H653.30M648.70,304.40L653.50,309.00L648.70,313.60" fill="none" stroke="#111" stroke-width="1.7" stroke-linejoin="miter" stroke-miterlimit="10"/>
<text x="660.30" y="313.60" font-size="12.8" font-style="italic" fill="#111" >H2</text>
<text x="676.50" y="309.70" font-size="8.3" font-style="italic" fill="#111" >-/-</text>
<text x="687.70" y="313.60" font-size="12.8" fill="#111" >(– IR)</text>
<line x1="601.20" y1="328.70" x2="616.40" y2="328.70" stroke="#10569f" stroke-width="1.6" />
<circle cx="608.80" cy="328.70" r="5.20" fill="#10569f" stroke="#0c3f7c" stroke-width="0.8"/>
<text x="619.60" y="333.70" font-size="12.8" fill="#111" >WT</text>
<path d="M644.10,329.10H653.30M648.70,324.50L653.50,329.10L648.70,333.70" fill="none" stroke="#111" stroke-width="1.7" stroke-linejoin="miter" stroke-miterlimit="10"/>
<text x="659.20" y="333.70" font-size="12.8" fill="#111" >WT</text>
<text x="686.60" y="333.70" font-size="12.8" fill="#111" >(+ IR)</text>
<line x1="601.20" y1="348.80" x2="616.40" y2="348.80" stroke="#111" stroke-width="1.6" />
<polygon points="608.80,342.70 614.80,353.30 602.80,353.30" fill="none" stroke="#111" stroke-width="1.6" />
<text x="619.60" y="353.20" font-size="12.8" fill="#111" >WT</text>
<path d="M644.10,348.60H653.30M648.70,344.00L653.50,348.60L648.70,353.20" fill="none" stroke="#111" stroke-width="1.7" stroke-linejoin="miter" stroke-miterlimit="10"/>
<text x="660.30" y="353.20" font-size="12.8" font-style="italic" fill="#111" >H2</text>
<text x="676.50" y="349.30" font-size="8.3" font-style="italic" fill="#111" >-/-</text>
<text x="687.70" y="353.20" font-size="12.8" fill="#111" >(+ IR)</text>
</svg></body></html>
